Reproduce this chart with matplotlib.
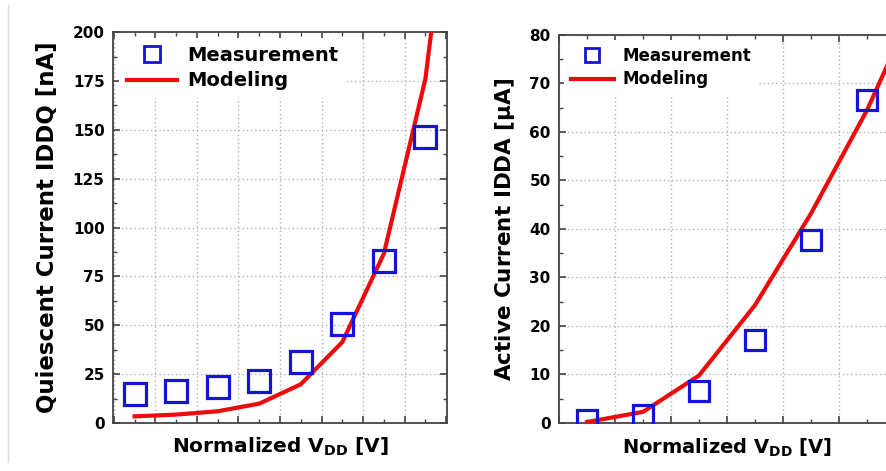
import matplotlib
matplotlib.use("Agg")
import matplotlib.pyplot as plt
from matplotlib.ticker import MultipleLocator, NullFormatter
from matplotlib.lines import Line2D

plt.rcParams['font.family'] = ['DejaVu Sans']
plt.rcParams['font.weight'] = 'bold'
plt.rcParams['mathtext.fontset'] = 'dejavusans'
plt.rcParams['mathtext.default'] = 'bf'

# quiescent current (left panel)
iddq_x = [1, 2, 3, 4, 5, 6, 7, 8]
iddq_meas = [14.7, 16.2, 18.4, 21.3, 31.2, 50.8, 82.7, 146.3]
iddq_model_x = [1, 2, 3, 4, 5, 6, 7, 8, 9]
iddq_model = [3.4, 4.3, 6.0, 9.9, 19.8, 41.4, 86.6, 176.0, 347.0]

# active current (right panel)
idda_x = [1, 2, 3, 4, 5, 6]
idda_meas = [0.7, 1.6, 6.5, 17.1, 37.7, 66.6]
idda_model_x = [1, 2, 3, 4, 5, 6, 7]
idda_model = [0.2, 2.3, 9.8, 24.3, 43.2, 64.5, 90.0]

BLUE = '#1414d2'
RED = '#ee0a0a'
SPINE = '#444444'


def style_axes(ax, ymax, ymajor, yminor, xmin, xmax):
    ax.set_xlim(xmin, xmax)
    ax.set_ylim(0, ymax)
    ax.xaxis.set_major_locator(MultipleLocator(1, offset=0.5))
    ax.xaxis.set_minor_locator(MultipleLocator(1))
    ax.xaxis.set_major_formatter(NullFormatter())
    ax.yaxis.set_major_locator(MultipleLocator(ymajor))
    ax.yaxis.set_minor_locator(MultipleLocator(yminor))
    ax.tick_params(which='both', direction='in', top=True, right=True,
                   color=SPINE, labelsize=11)
    ax.tick_params(which='major', length=5, width=1.2)
    ax.tick_params(which='minor', length=3, width=1)
    ax.tick_params(axis='y', pad=6)
    for s in ax.spines.values():
        s.set_color(SPINE)
        s.set_linewidth(1.3)
    ax.grid(True, which='major', linestyle=(0, (1, 2)), color='#b0b0b0', linewidth=1)
    ax.set_axisbelow(True)
    for lab in ax.get_yticklabels():
        lab.set_fontweight('bold')


def add_legend(ax, fsize, msize):
    handles = [
        Line2D([], [], linestyle='none', marker='s', markersize=msize,
               markerfacecolor='none', markeredgecolor=BLUE, markeredgewidth=2),
        Line2D([], [], color=RED, linewidth=3),
    ]
    leg = ax.legend(handles, ['Measurement', 'Modeling'], loc='upper left',
                    prop={'size': fsize, 'weight': 'bold'}, frameon=True,
                    framealpha=1, edgecolor='none', handlelength=2.6,
                    handletextpad=0.5, borderaxespad=0.3, labelspacing=0.35,
                    borderpad=0.4)
    return leg


fig = plt.figure(figsize=(8.86, 4.71), dpi=100)

# thin gray border line at the left edge
fig.add_artist(Line2D([0.009, 0.009], [0.02, 0.99], color='#dddddd', linewidth=1))

ax1 = fig.add_axes([0.1275, 0.1019, 0.377, 0.830])
ax1.plot(iddq_model_x, iddq_model, color=RED, linewidth=3, zorder=3)
ax1.plot(iddq_x, iddq_meas, linestyle='none', marker='s', markersize=16,
         markerfacecolor='none', markeredgecolor=BLUE, markeredgewidth=2.3, zorder=4)
style_axes(ax1, 200, 25, 12.5, 0.48, 8.52)
ax1.set_ylabel('Quiescent Current IDDQ [nA]', fontsize=16.5, fontweight='bold', labelpad=10)
ax1.set_xlabel(r'Normalized V$_{\mathbf{DD}}$ [V]', fontsize=14.5, fontweight='bold', labelpad=6)
add_legend(ax1, 14, 11)

ax2 = fig.add_axes([0.631, 0.1019, 0.5056, 0.824])
ax2.plot(idda_model_x, idda_model, color=RED, linewidth=3, zorder=3)
ax2.plot(idda_x, idda_meas, linestyle='none', marker='s', markersize=15,
         markerfacecolor='none', markeredgecolor=BLUE, markeredgewidth=2.3, zorder=4)
style_axes(ax2, 80, 10, 5, 0.5, 8.5)
ax2.set_ylabel(r'Active Current IDDA [$\mathbf{\mu}$A]', fontsize=15.5, fontweight='bold', labelpad=9)
ax2.set_xlabel(r'Normalized V$_{\mathbf{DD}}$ [V]', fontsize=14, fontweight='bold', labelpad=6)
ax2.xaxis.set_label_coords(0.375, -0.035, transform=ax2.transAxes)
ax2.xaxis.label.set_verticalalignment('top')
add_legend(ax2, 12, 10)

fig.savefig('out.png', dpi=100)
